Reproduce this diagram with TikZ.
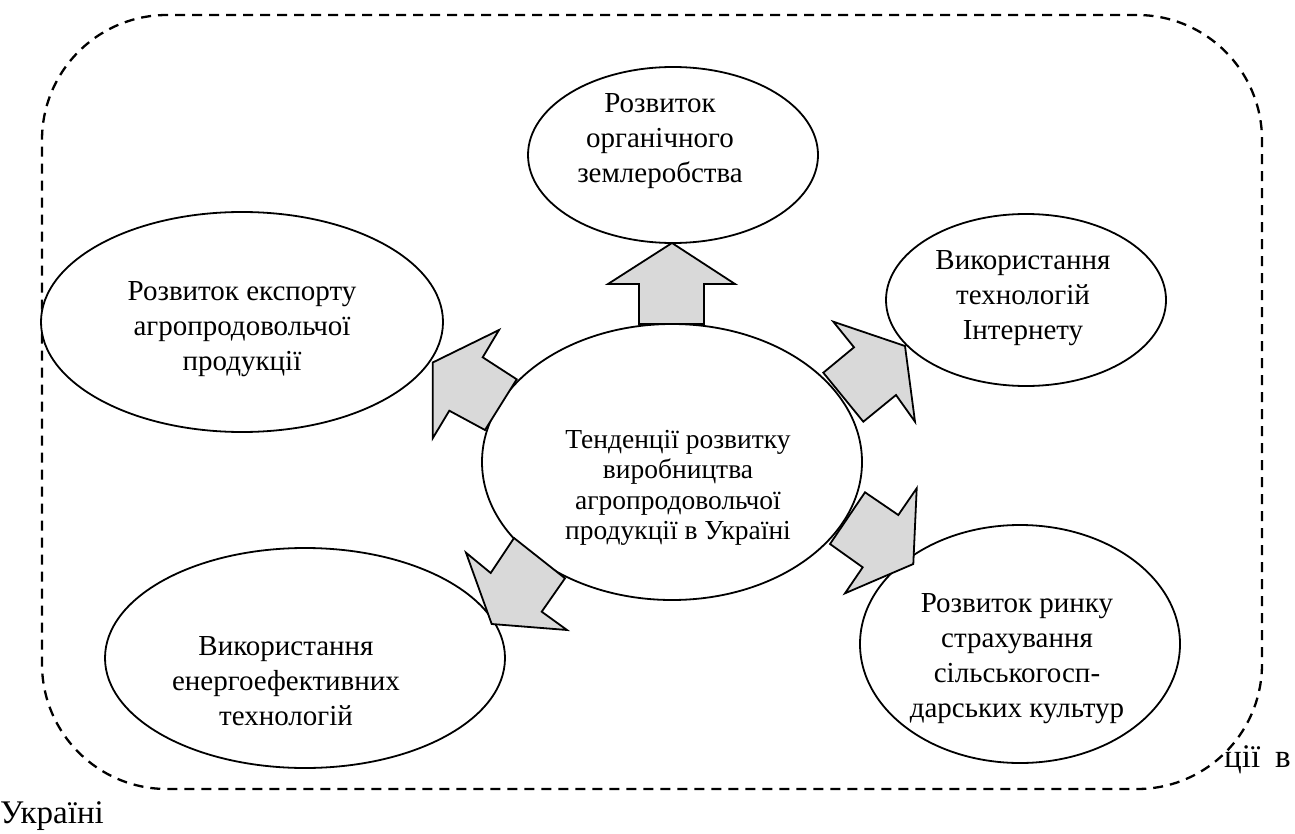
\documentclass[tikz,border=0pt]{standalone}
\usepackage{fontspec}
\setmainfont{Liberation Serif}
\usetikzlibrary{shapes.geometric}
\begin{document}
\begin{tikzpicture}[x=1pt,y=-1pt,
  bubble/.style={ellipse,draw,line width=1.8pt,fill=white,inner sep=0pt},
  bubtext/.style={align=center,font=\fontsize{29}{35}\selectfont,inner sep=0pt},
  ctrtext/.style={align=center,font=\fontsize{27.5}{30.5}\selectfont,inner sep=0pt},
  captext/.style={font=\fontsize{33}{36}\selectfont,inner sep=0pt},
  blockarrow/.style={draw,line width=1.8pt,fill=black!15,line join=miter},
  framebox/.style={draw,line width=2.3pt,dash pattern=on 10pt off 7pt,fill=white,rounded corners=125pt,inner sep=0pt}
]
\useasboundingbox (0,0) rectangle (1295,834);
% caption fragments (partly covered by the frame)
\node[captext,anchor=base east] (cap1) at (1291,767) {\spaceskip=15pt ції в};
\node[captext,anchor=base west] (cap2) at (0,823) {Україні};
% dashed frame
\node[framebox,minimum width=1220pt,minimum height=774pt] (frame) at (652,402) {};
% ellipses
\node[bubble,minimum width=290pt,minimum height=176pt] (e1) at (673,155) {};
\node[bubble,minimum width=280pt,minimum height=172pt] (e2) at (1026,300) {};
\node[bubble,minimum width=402pt,minimum height=220pt] (e3) at (242,322) {};
\node[bubble,minimum width=380pt,minimum height=276pt] (c) at (672,462) {};
\node[bubble,minimum width=400pt,minimum height=220pt] (e5) at (305,658) {};
\node[bubble,minimum width=320pt,minimum height=238pt] (e6) at (1020,644) {};
% texts
\node[bubtext] (e1t) at (660,141) {Розвиток\\органічного\\землеробства};
\node[bubtext] (e2t) at (1023,298) {Використання\\технологій\\Інтернету};
\node[bubtext] (e3t) at (242,329) {Розвиток експорту\\агропродовольчої\\продукції};
\node[ctrtext] (ct) at (678,488) {Тенденції розвитку\\виробництва\\агропродовольчої\\продукції в Україні};
\node[bubtext] (e5t) at (286,681) {Використання\\енергоефективних\\технологій};
\node[bubtext] (e6t) at (1017,659) {Розвиток ринку\\страхування\\сільськогосп-\\дарських культур};
% block arrows
\draw[blockarrow] (639,324) -- (639,284) -- (608,284) -- (672,243) -- (735,284) -- (704,284) -- (704,324) -- cycle;
\draw[blockarrow] (516.7,379.3) -- (482.7,357.3) -- (499,330) -- (432.7,362.5) -- (432.7,438.3) -- (449.3,410.7) -- (485,430) -- cycle;
\draw[blockarrow] (823.3,372.7) -- (854,347.3) -- (833.3,321.7) -- (905,346) -- (915,421.7) -- (896,395) -- (863.3,421.7) -- cycle;
\draw[blockarrow] (865,492.3) -- (898.3,515) -- (916.7,488.3) -- (913.3,564) -- (845,593.3) -- (862.7,567.3) -- (830,544) -- cycle;
\draw[blockarrow] (514,538) -- (490.7,573) -- (466,552.7) -- (491.7,624) -- (567,630) -- (541.7,611.7) -- (565,578.3) -- cycle;
\end{tikzpicture}
\end{document}
